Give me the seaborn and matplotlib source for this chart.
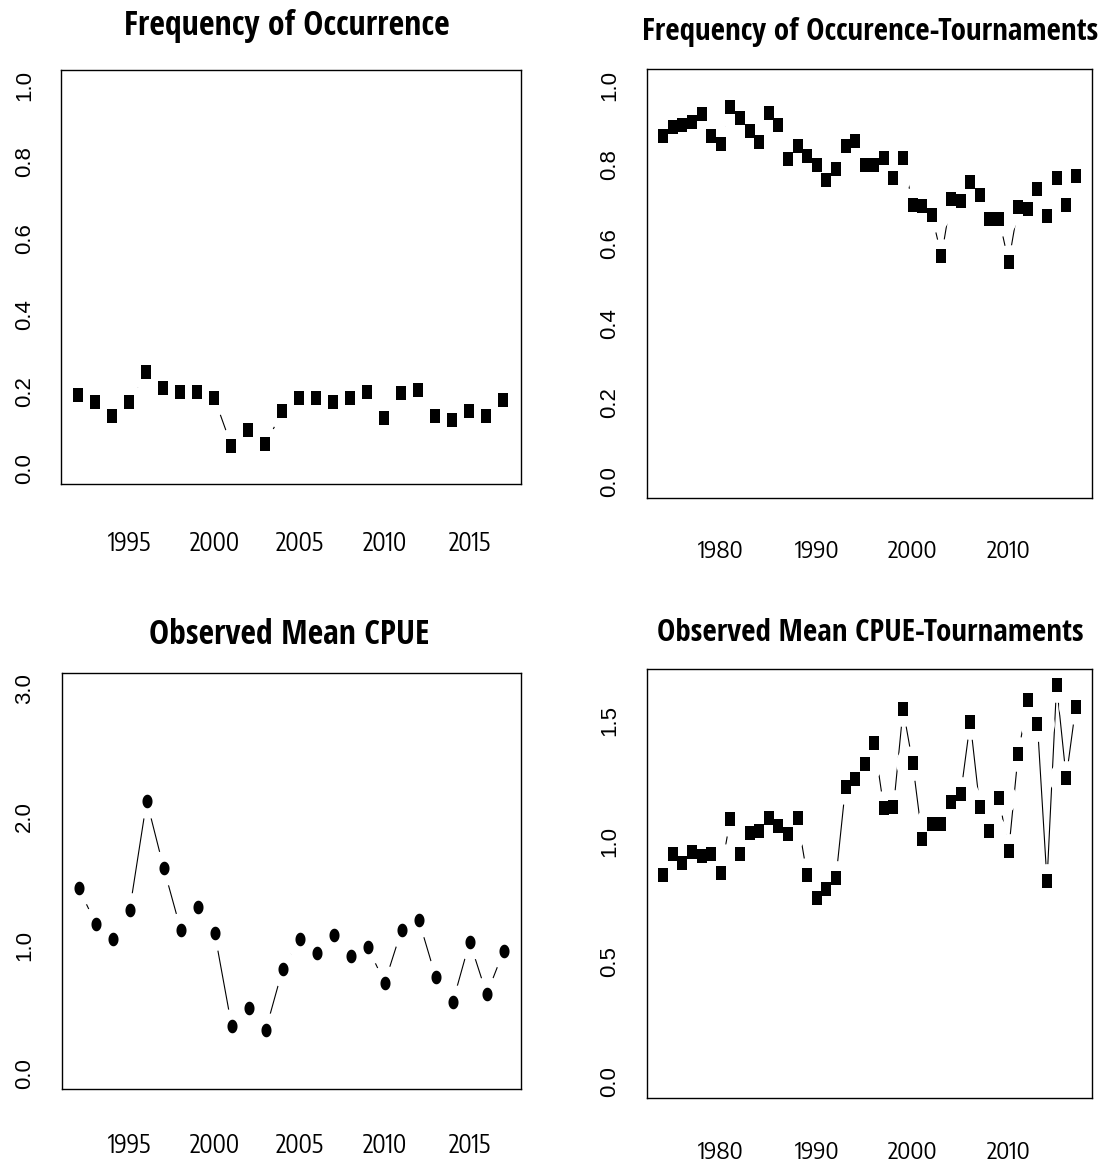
import numpy as np
import pandas as pd
import matplotlib
matplotlib.use("Agg")
import matplotlib.pyplot as plt
from matplotlib import font_manager
import seaborn as sns

# ---------------- data ----------------
years_short = list(range(1992, 2018))
freq_occ = [0.190, 0.173, 0.136, 0.173, 0.250, 0.209, 0.200, 0.199, 0.183,
            0.059, 0.101, 0.062, 0.149, 0.183, 0.183, 0.173, 0.183, 0.199,
            0.131, 0.196, 0.203, 0.136, 0.127, 0.149, 0.136, 0.177]
cpue = [1.444, 1.168, 1.046, 1.275, 2.123, 1.600, 1.121, 1.293, 1.093,
        0.369, 0.507, 0.338, 0.814, 1.046, 0.937, 1.077, 0.918, 0.984,
        0.707, 1.121, 1.197, 0.752, 0.554, 1.027, 0.617, 0.955]

years_long = list(range(1974, 2018))
freq_tourn = [0.872, 0.895, 0.900, 0.908, 0.927, 0.872, 0.852, 0.944, 0.918,
              0.885, 0.857, 0.929, 0.900, 0.814, 0.847, 0.821, 0.799, 0.762,
              0.789, 0.847, 0.860, 0.799, 0.799, 0.816, 0.766, 0.816, 0.699,
              0.696, 0.672, 0.569, 0.714, 0.707, 0.757, 0.724, 0.663, 0.663,
              0.554, 0.694, 0.689, 0.739, 0.669, 0.766, 0.699, 0.771]
cpue_tourn = [0.858, 0.945, 0.910, 0.954, 0.938, 0.945, 0.869, 1.093, 0.945,
              1.032, 1.044, 1.094, 1.062, 1.028, 1.094, 0.858, 0.762, 0.802,
              0.845, 1.226, 1.256, 1.322, 1.408, 1.136, 1.140, 1.547, 1.325,
              1.010, 1.069, 1.069, 1.163, 1.194, 1.495, 1.140, 1.044, 1.180,
              0.957, 1.363, 1.588, 1.488, 0.833, 1.649, 1.263, 1.559]

titles = ["Frequency of Occurrence", "Frequency of Occurence-Tournaments",
          "Observed Mean CPUE", "Observed Mean CPUE-Tournaments"]
xticks_short = [1995, 2000, 2005, 2010, 2015]
xticks_long = [1980, 1990, 2000, 2010]
yticks_freq = [0.0, 0.2, 0.4, 0.6, 0.8, 1.0]
ylabels_freq = ["0.0", "0.2", "0.4", "0.6", "0.8", "1.0"]
yticks_cpue = [0.0, 0.5, 1.0, 1.5, 2.0, 2.5, 3.0]
ylabels_cpue = ["0.0", "", "1.0", "", "2.0", "", "3.0"]
yticks_cpue_t = [0.0, 0.5, 1.0, 1.5]
ylabels_cpue_t = ["0.0", "0.5", "1.0", "1.5"]

# ---------------- style ----------------
sns.set_style("white")
plt.rcParams['font.family'] = ['Liberation Sans', 'DejaVu Sans']
plt.rcParams['text.color'] = 'black'
plt.rcParams['xtick.color'] = 'black'
plt.rcParams['ytick.color'] = 'black'


def ink_size(fp, text):
    """Width/height in px of the inked area of a text drawn at fp."""
    f = plt.figure(figsize=(14, 2.5), dpi=100)
    f.text(0.01, 0.35, text, fontproperties=fp, color="black")
    f.canvas.draw()
    a = np.asarray(f.canvas.buffer_rgba())[:, :, 0]
    plt.close(f)
    ys, xs = np.where(a < 128)
    if len(xs) == 0:
        return 1.0, 1.0
    return float(xs.max() - xs.min() + 1), float(ys.max() - ys.min() + 1)


def candidates(bold):
    out = []
    seen = set()
    for fe in font_manager.fontManager.ttflist:
        nm = fe.name
        fn = str(fe.fname).lower()
        if "cjk" in fn or "mono" in fn or "serif" in nm.lower() and "sans" not in nm.lower():
            continue
        if "italic" in fn or "oblique" in fn or str(fe.style) != "normal":
            continue
        if not any(k in nm for k in ("Sans", "Roboto", "Lato", "Inter", "Narrow", "Condensed")):
            continue
        w = fe.weight if isinstance(fe.weight, int) else (700 if "bold" in str(fe.weight) else 400)
        if bold and not (650 <= w <= 750):
            continue
        if not bold and not (380 <= w <= 420):
            continue
        if fe.fname in seen:
            continue
        seen.add(fe.fname)
        out.append(fe.fname)
    return out


def pick_font(bold, text, ratio):
    best, bestd = None, 1e9
    for fname in candidates(bold):
        try:
            fp = font_manager.FontProperties(fname=fname, size=40)
            w, h = ink_size(fp, text)
        except Exception:
            continue
        d = abs(h / w - ratio)
        if d < bestd:
            best, bestd = fname, d
    return best


# reference shapes: "1980" is ~44 px wide, 18.3 px tall; title ink ~26/278
xlab_font = pick_font(False, "1980", 18.3 / 44.0)
title_font = pick_font(True, "Observed Mean CPUE", 25.5 / 278.0)


def size_for_width(fname, text, target_w, bold_fallback=False):
    if fname is None:
        fp = font_manager.FontProperties(family="Liberation Sans",
                                         weight="bold" if bold_fallback else "normal", size=40)
    else:
        fp = font_manager.FontProperties(fname=fname, size=40)
    w, h = ink_size(fp, text)
    return 40 * target_w / w


def fprops(fname, size, bold_fallback=False):
    if fname is None:
        return font_manager.FontProperties(family="Liberation Sans",
                                           weight="bold" if bold_fallback else "normal", size=size)
    return font_manager.FontProperties(fname=fname, size=size)


W, H = 1101, 1171
fig = plt.figure(figsize=(W / 100, H / 100), dpi=100)


def box(l, t, r, b):
    return [l / W, 1 - b / H, (r - l) / W, (b - t) / H]


rect_marker = [(-0.37, -0.5), (0.37, -0.5), (0.37, 0.5), (-0.37, 0.5), (-0.37, -0.5)]
th = np.linspace(0, 2 * np.pi, 40)
ellipse_marker = list(zip(0.37 * np.cos(th), 0.5 * np.sin(th)))

panels = [
    dict(box=box(61.3, 70, 520.5, 483.5), x=years_short, y=freq_occ,
         xlim=(1991, 2018), ylim=(-0.04, 1.04), xt=xticks_short,
         yt=yticks_freq, yl=ylabels_freq, marker=rect_marker, ms=10.0,
         title=titles[0], tw=322, tx=287, ty=35, xpad=21, xlw=42),
    dict(box=box(646.7, 69.3, 1092.3, 497.7), x=years_long, y=freq_tourn,
         xlim=(1972.28, 2018.72), ylim=(-0.04, 1.04), xt=xticks_long,
         yt=yticks_freq, yl=ylabels_freq, marker=rect_marker, ms=9.6,
         title=titles[1], tw=452, tx=870, ty=40, xpad=17, xlw=44),
    dict(box=box(61.7, 672.7, 520.7, 1089), x=years_short, y=cpue,
         xlim=(1991, 2018), ylim=(-0.12, 3.12), xt=xticks_short,
         yt=yticks_cpue, yl=ylabels_cpue, marker=ellipse_marker, ms=9.8,
         title=titles[2], tw=278, tx=289, ty=644, xpad=18.5, xlw=42),
    dict(box=box(646.7, 669, 1092.3, 1097.7), x=years_long, y=cpue_tourn,
         xlim=(1972.28, 2018.72), ylim=(-0.066, 1.715), xt=xticks_long,
         yt=yticks_cpue_t, yl=ylabels_cpue_t, marker=rect_marker, ms=9.6,
         title=titles[3], tw=424, tx=870, ty=641, xpad=18, xlw=44),
]

for p in panels:
    ax = fig.add_axes(p["box"])
    df = pd.DataFrame({"year": p["x"], "value": p["y"]})
    # connecting line (R type="b")
    sns.lineplot(data=df, x="year", y="value", ax=ax, color="black",
                 linewidth=0.8, zorder=2, legend=False)
    # white gaps around points
    sns.scatterplot(data=df, x="year", y="value", ax=ax, marker="o",
                    s=25.0 ** 2, color="white", linewidth=0, zorder=2.1,
                    legend=False)
    # points
    sns.scatterplot(data=df, x="year", y="value", ax=ax, marker=p["marker"],
                    s=p["ms"] ** 2, color="black", linewidth=0, zorder=2.2,
                    legend=False)
    ax.set_xlim(*p["xlim"])
    ax.set_ylim(*p["ylim"])

    xsize = size_for_width(xlab_font, str(p["xt"][0]), p["xlw"])
    ax.set_xticks(p["xt"])
    ax.set_xticklabels([str(v) for v in p["xt"]])
    for lab in ax.get_xticklabels():
        lab.set_fontproperties(fprops(xlab_font, xsize))

    ax.set_yticks(p["yt"])
    ax.set_yticklabels(p["yl"], fontsize=16, rotation=90, va="center")
    ax.set_xlabel("")
    ax.set_ylabel("")
    ax.tick_params(axis="x", direction="out", length=12.5, width=0.8,
                   pad=p["xpad"], colors="#222222", labelcolor="black")
    ax.tick_params(axis="y", direction="out", length=10, width=0.8,
                   pad=9, colors="#222222", labelcolor="black")
    for s in ax.spines.values():
        s.set_visible(True)
        s.set_color("black")
        s.set_linewidth(1.0)
    ax.set_facecolor("white")

    tsize = size_for_width(title_font, p["title"], p["tw"], bold_fallback=True)
    fig.text(p["tx"] / W, 1 - p["ty"] / H, p["title"], ha="center",
             va="baseline", color="black",
             fontproperties=fprops(title_font, tsize, bold_fallback=True))

fig.savefig("out.png", dpi=100, facecolor="white")
